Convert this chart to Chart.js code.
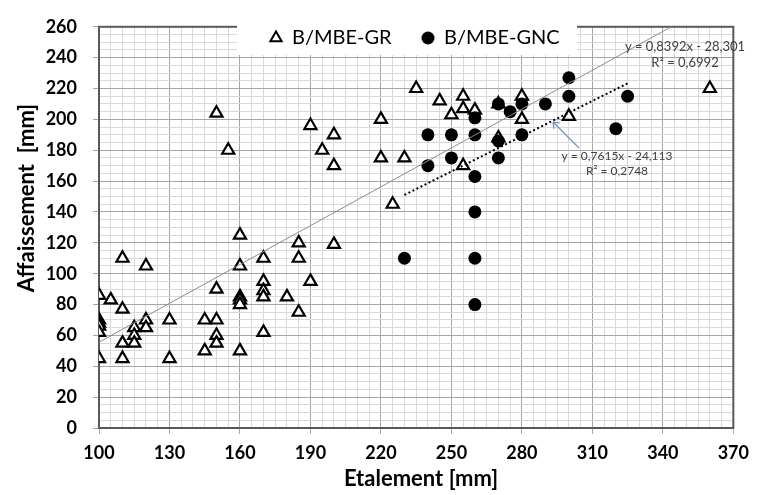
<!DOCTYPE html>
<html>
<head>
<meta charset="utf-8">
<script src="https://cdn.jsdelivr.net/npm/chart.js@4.4.1/dist/chart.umd.min.js"></script>
<style>
  html, body { margin: 0; padding: 0; background: #fff; }
  #wrap { width: 757px; height: 495px; }
</style>
</head>
<body>
<div id="wrap"><canvas id="graphe"></canvas></div>
<script>
// donnees
const etalementGR = [100, 100, 100, 100, 100, 100, 105, 110, 110, 110, 110, 115, 115, 115, 120, 120, 120, 130, 130,
    145, 145, 150, 150, 150, 150, 150, 155, 160, 160, 160, 160, 160, 160, 170, 170, 170, 170, 170, 180,
    185, 185, 185, 190, 190, 195, 200, 200, 200, 220, 220, 225, 230, 235, 245, 250, 255, 255, 255, 260,
    270, 270, 280, 280, 300, 360];
const affaissementGR = [86, 70, 68, 66, 62, 45, 83, 110, 77, 55, 45, 65, 60, 55, 105, 70, 65, 70, 45,
    70, 50, 204, 90, 70, 60, 55, 180, 125, 105, 85, 83, 80, 50, 110, 95, 89, 85, 62, 85,
    120, 110, 75, 196, 95, 180, 190, 170, 119, 200, 175, 145, 175, 220, 212, 203, 215, 207, 170, 206,
    210, 188, 215, 200, 202, 220];

const etalementGNC = [230, 240, 240, 250, 250, 260, 260, 260, 260, 260, 260, 270, 270, 270, 275, 280, 280, 290, 300, 300, 320, 325];
const affaissementGNC = [110, 190, 170, 190, 175, 201, 190, 163, 140, 110, 80, 210, 186, 175, 205, 210, 190, 210, 227, 215, 194, 215];

const series = ['B/MBE-GR', 'B/MBE-GNC'];
const xTicks = [100, 130, 160, 190, 220, 250, 280, 310, 340, 370];
const yTicks = [0, 20, 40, 60, 80, 100, 120, 140, 160, 180, 200, 220, 240, 260];

// courbes de tendance (equations affichees)
const pentes = [0.8392, 0.7615];
const origines = [-28.301, -24.113];
const bornesTendance = [[100, 360], [230, 325]];
const equations = ['y = 0,8392x - 28,301', 'y = 0,7615x - 24,113'];
const r2 = ['R² = 0,6992', 'R² = 0,2748'];

function points(xs, ys) {
    return xs.map((x, i) => ({ x: x, y: ys[i] }));
}
function tendance(k) {
    return bornesTendance[k].map(x => ({ x: x, y: pentes[k] * x + origines[k] }));
}

const estMajeurX = v => xTicks.includes(v);
const estMajeurY = v => yTicks.includes(v);

// cadre, legende et textes
const decor = {
    id: 'decor',
    beforeDatasetsDraw(chart) {
        const { ctx, chartArea: a } = chart;
        ctx.save();
        ctx.strokeStyle = '#595959';
        ctx.lineWidth = 2;
        ctx.strokeRect(a.left, a.top, a.right - a.left, a.bottom - a.top);
        ctx.restore();
    },
    afterDraw(chart) {
        const ctx = chart.ctx;
        ctx.save();

        // legende
        ctx.fillStyle = '#fff';
        ctx.fillRect(237, 21, 340, 34);
        ctx.strokeStyle = '#000';
        ctx.lineWidth = 2;
        ctx.beginPath();
        const r = 6.5;
        ctx.moveTo(276, 38 - r);
        ctx.lineTo(276 + r * 0.866, 38 + r / 2);
        ctx.lineTo(276 - r * 0.866, 38 + r / 2);
        ctx.closePath();
        ctx.stroke();
        ctx.fillStyle = '#000';
        ctx.beginPath();
        ctx.arc(428, 38, 6.5, 0, Math.PI * 2);
        ctx.fill();
        ctx.font = '20px Lato';
        ctx.textBaseline = 'middle';
        ctx.textAlign = 'left';
        ctx.fillText(series[0], 292, 38);
        ctx.fillText(series[1], 444, 38);

        // equations
        ctx.fillStyle = '#404040';
        ctx.textAlign = 'center';
        ctx.font = '13px Lato';
        ctx.fillText(equations[0], 685, 47);
        ctx.fillText(r2[0], 685, 63);
        ctx.font = '12px Lato';
        ctx.fillText(equations[1], 617, 156);
        ctx.fillText(r2[1], 617, 171);

        // fleche
        ctx.strokeStyle = '#6f93c8';
        ctx.lineWidth = 1.2;
        ctx.beginPath();
        ctx.moveTo(579, 148);
        ctx.lineTo(553, 122);
        ctx.moveTo(553, 122);
        ctx.lineTo(554, 129);
        ctx.moveTo(553, 122);
        ctx.lineTo(560, 123);
        ctx.stroke();

        // titres des axes
        ctx.fillStyle = '#000';
        ctx.font = 'bold 22px Lato';
        ctx.textAlign = 'center';
        ctx.fillText('Etalement [mm]', 421, 479);
        ctx.translate(27, 198);
        ctx.rotate(-Math.PI / 2);
        ctx.fillText('Affaissement  [mm]', 0, 0);
        ctx.restore();
    }
};

const graphe = document.getElementById('graphe');

new Chart(graphe, {
    type: 'scatter',
    data: {
        datasets: [{
            label: series[0],
            data: points(etalementGR, affaissementGR),
            pointStyle: 'triangle',
            pointRadius: 7,
            pointBackgroundColor: '#fff',
            pointBorderColor: '#000',
            pointBorderWidth: 2.2,
            order: 2
        }, {
            label: series[1],
            data: points(etalementGNC, affaissementGNC),
            pointStyle: 'circle',
            pointRadius: 6.5,
            pointBackgroundColor: '#000',
            pointBorderColor: '#000',
            pointBorderWidth: 0,
            order: 1
        }, {
            type: 'line',
            label: 'tendance GR',
            data: tendance(0),
            borderColor: '#8c8c8c',
            borderWidth: 1,
            pointRadius: 0,
            order: 0
        }, {
            type: 'line',
            label: 'tendance GNC',
            data: tendance(1),
            borderColor: '#000',
            borderWidth: 2,
            borderDash: [2, 2.5],
            pointRadius: 0,
            order: 0
        }]
    },
    options: {
        responsive: true,
        maintainAspectRatio: false,
        animation: false,
        layout: { padding: { left: 0, right: 19, top: 15, bottom: 0 } },
        plugins: {
            legend: { display: false },
            tooltip: { enabled: false }
        },
        scales: {
            x: {
                type: 'linear',
                min: 100,
                max: 370,
                afterFit: s => { s.height = 67; },
                grid: {
                    color: c => estMajeurX(c.tick.value) ? '#a6a6a6' : '#d9d9d9',
                    tickColor: c => estMajeurX(c.tick.value) ? '#8eb4e3' : 'rgba(0,0,0,0)',
                    tickLength: 6
                },
                border: { display: false },
                ticks: {
                    stepSize: 5,
                    autoSkip: false,
                    maxRotation: 0,
                    maxTicksLimit: 200,
                    padding: 8,
                    color: '#000',
                    font: { family: 'Lato', weight: 'bold', size: 18 },
                    callback: v => estMajeurX(v) ? v : ''
                }
            },
            y: {
                min: 0,
                max: 260,
                afterFit: s => { s.width = 99; },
                grid: {
                    color: c => estMajeurY(c.tick.value) ? '#a6a6a6' : '#d9d9d9',
                    tickColor: c => estMajeurY(c.tick.value) ? '#a6a6a6' : 'rgba(0,0,0,0)',
                    tickLength: 6
                },
                border: { display: false },
                ticks: {
                    stepSize: 5,
                    autoSkip: false,
                    maxTicksLimit: 200,
                    padding: 16,
                    color: '#000',
                    font: { family: 'Lato', weight: 'bold', size: 18 },
                    callback: v => estMajeurY(v) ? v : ''
                }
            }
        }
    },
    plugins: [decor]
});
</script>
</body>
</html>
